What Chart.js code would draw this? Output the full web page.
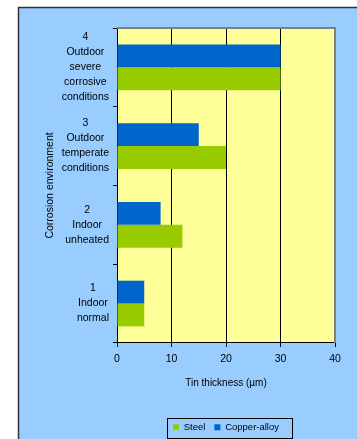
<!DOCTYPE html>
<html>
<head>
<meta charset="utf-8">
<script src="https://cdn.jsdelivr.net/npm/chart.js@4.4.1/dist/chart.umd.min.js"></script>
<style>
  html, body { margin: 0; padding: 0; background: #fff; }
  #wrap { width: 357px; height: 439px; }
</style>
</head>
<body>
<div id="wrap"><canvas id="chart" width="357" height="439"></canvas></div>
<script>
// ================== Data ==================
const categories = [
  ["4", "Outdoor", "severe", "corrosive", "conditions"],
  ["3", "Outdoor", "temperate", "conditions"],
  ["2", "Indoor", "unheated"],
  ["1", "Indoor", "normal"],
];
const copperAlloy = [30, 15, 8, 5];
const steel = [30, 20, 12, 5];
const xTicks = [0, 10, 20, 30, 40];

const FONT = "'Liberation Sans', Arial, sans-serif";
Chart.defaults.font.family = FONT;
Chart.defaults.font.size = 10;
Chart.defaults.color = "#000";

// ================== Plugins ==================
// Page + plot backgrounds, frames, category labels, legend box
const backgroundPlugin = {
  id: "backgrounds",
  beforeDraw(chart) {
    const { ctx, chartArea: a } = chart;
    ctx.save();
    ctx.fillStyle = "#fff";
    ctx.fillRect(0, 0, chart.width, chart.height);
    ctx.fillStyle = "#99ccff";
    ctx.fillRect(18, 7, chart.width - 18, chart.height - 7);
    ctx.strokeStyle = "#333";
    ctx.lineWidth = 1.5;
    ctx.beginPath();
    ctx.moveTo(18.5, chart.height);
    ctx.lineTo(18.5, 7.5);
    ctx.lineTo(chart.width, 7.5);
    ctx.stroke();
    ctx.fillStyle = "#ffff99";
    ctx.fillRect(a.left, a.top, a.right - a.left, a.bottom - a.top);
    ctx.restore();
  },
  afterDraw(chart) {
    const { ctx, chartArea: a } = chart;
    ctx.save();
    // gray frame top / right
    ctx.strokeStyle = "#808080";
    ctx.lineWidth = 2;
    ctx.beginPath();
    ctx.moveTo(a.left, a.top);
    ctx.lineTo(a.right, a.top);
    ctx.lineTo(a.right, a.bottom);
    ctx.stroke();

    // multi-line category labels, each block centred, blocks right-aligned
    const y = chart.scales.y;
    ctx.fillStyle = "#000";
    ctx.font = "10.5px " + FONT;
    ctx.textAlign = "center";
    ctx.textBaseline = "middle";
    const lh = 15;
    const rightEdge = a.left - 8;
    chart.data.labels.forEach((lines, i) => {
      const w = Math.max(...lines.map((l) => ctx.measureText(l).width));
      const cx = rightEdge - w / 2;
      const cy = y.getPixelForValue(i);
      const y0 = cy - ((lines.length - 1) * lh) / 2;
      lines.forEach((l, j) => ctx.fillText(l, cx, y0 + j * lh));
    });

    // legend frame
    const hb = chart.legend.legendHitBoxes;
    if (hb && hb.length) {
      const l = Math.min(...hb.map((h) => h.left)) - 6;
      const r = Math.max(...hb.map((h) => h.left + h.width)) + 13;
      const t = hb[0].top - 5;
      const b = hb[0].top + hb[0].height + 5;
      ctx.strokeStyle = "#000";
      ctx.lineWidth = 1;
      ctx.strokeRect(Math.round(l) + 0.5, Math.round(t) + 0.5, Math.round(r - l), Math.round(b - t));
    }
    ctx.restore();
  },
};

// ================== Chart ==================
const ctx = document.getElementById("chart").getContext("2d");
new Chart(ctx, {
  type: "bar",
  data: {
    labels: categories,
    datasets: [
      {
        label: "Copper-alloy",
        data: copperAlloy,
        backgroundColor: "#0066cc",
        categoryPercentage: 0.58,
        barPercentage: 1,
      },
      {
        label: "Steel",
        data: steel,
        backgroundColor: "#99cc00",
        categoryPercentage: 0.58,
        barPercentage: 1,
      },
    ],
  },
  options: {
    indexAxis: "y",
    responsive: false,
    animation: false,
    layout: { padding: { top: 28, right: 22, left: 40, bottom: -3 } },
    plugins: {
      tooltip: { enabled: false },
      legend: {
        position: "bottom",
        fullSize: false,
        reverse: true,
        labels: { boxWidth: 6, boxHeight: 6, padding: 9, font: { size: 9.5 } },
      },
    },
    scales: {
      x: {
        min: 0,
        max: 40,
        afterBuildTicks: (s) => { s.ticks = xTicks.map((v) => ({ value: v })); },
        grid: { color: "#000", lineWidth: 1, tickLength: 4 },
        border: { color: "#000" },
        ticks: { padding: 6, font: { size: 10.5 } },
        title: {
          display: true,
          text: "Tin thickness (µm)",
          font: { size: 10 },
          padding: { top: 6, bottom: 24 },
        },
      },
      y: {
        afterFit: (s) => { s.width = 77; },
        grid: { drawOnChartArea: false, color: "#000", tickLength: 4 },
        border: { color: "#000" },
        ticks: { display: false },
        title: {
          display: true,
          text: "Corrosion environment",
          font: { size: 10.5 },
          padding: { top: 4, bottom: 4 },
        },
      },
    },
  },
  plugins: [backgroundPlugin],
});
</script>
</body>
</html>
